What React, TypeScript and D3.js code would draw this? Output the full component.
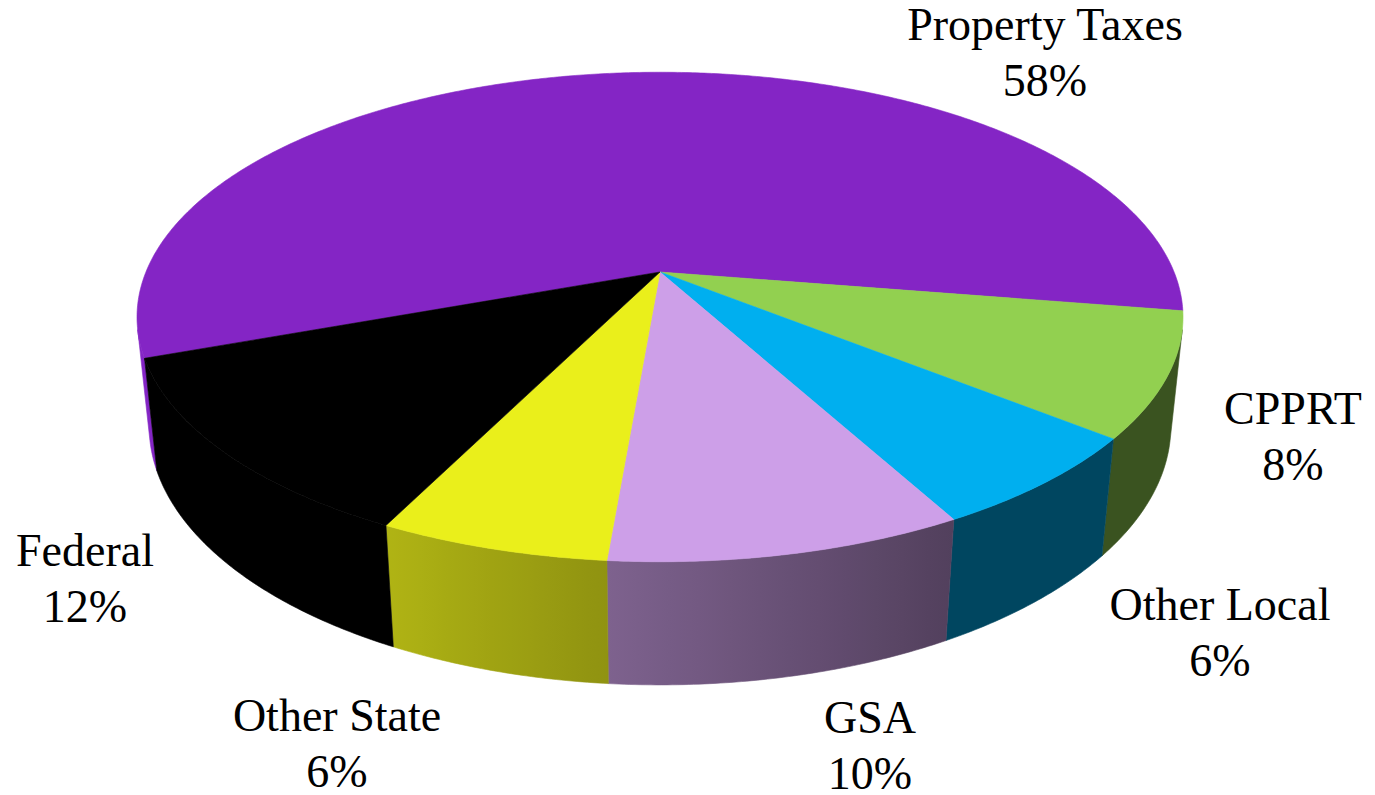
import React from "react";
import * as d3 from "d3";

const categories = ["Property Taxes", "CPPRT", "Other Local", "GSA", "Other State", "Federal"];
const values = [58.1, 8.2, 6.3, 9.3, 6.0, 12.1];
const pctLabels = ["58%", "8%", "6%", "10%", "6%", "12%"];
const colors = ["#8425C5", "#92D050", "#00AFEF", "#CD9FE8", "#EAEF1B", "#000000"];
// label anchor positions (centre x, first baseline y)
const labelX = [1045, 1293, 1220, 870, 337, 85];
const labelY = [40, 424, 620, 733, 731, 566];

const W = 1375;
const H = 795;

// perspective camera
const sinA = 0.46;
const cosA = Math.sqrt(1 - sinA * sinA);
const L = 4.83;
const F = 2483;
const CX = 660;
const CY = 272;
const THICK = 0.241;
const START_DEG = 160; // screen angle (clockwise from 3 o'clock) where first slice starts

function proj(u: number, y3: number, v: number): [number, number] {
  const den = L - v * cosA - y3 * sinA;
  return [CX + (F * u) / den, CY + (F * (v * sinA - y3 * cosA)) / den];
}
const rad = (d: number) => (d * Math.PI) / 180;
const topPt = (phi: number) => proj(Math.cos(rad(phi)), 0, Math.sin(rad(phi)));
const botPt = (phi: number) => proj(Math.cos(rad(phi)), -THICK, Math.sin(rad(phi)));

const visMin = (Math.asin(1 / (L * cosA)) * 180) / Math.PI;
const visMax = 180 - visMin;

const lightFactor = (phi: number) => Math.min(1, Math.max(0.4, 0.4 + 0.0065 * (phi - 62)));

function arcPts(a: number, b: number, fn: (p: number) => [number, number]) {
  const n = Math.max(2, Math.ceil(Math.abs(b - a) / 0.5));
  const pts: [number, number][] = [];
  for (let i = 0; i <= n; i++) pts.push(fn(a + ((b - a) * i) / n));
  return pts;
}

export default function App() {
  const pie = d3
    .pie<number>()
    .sort(null)
    .startAngle(rad(START_DEG + 90))
    .endAngle(rad(START_DEG + 90 + 360));
  const arcs = pie(values);
  const line = d3.line();

  const slices = arcs.map((arc, i) => {
    const a0 = (arc.startAngle * 180) / Math.PI - 90;
    const a1 = (arc.endAngle * 180) / Math.PI - 90;
    const topPoly: [number, number][] = [[CX, CY], ...arcPts(a0, a1, topPt)];
    const topPath = line(topPoly) + "Z";
    const sides: { a: number; b: number }[] = [];
    for (const off of [-360, 0, 360]) {
      const a = Math.max(a0 + off, visMin);
      const b = Math.min(a1 + off, visMax);
      if (b > a) sides.push({ a, b });
    }
    return { i, a0, a1, topPath, sides };
  });

  const shade = (c: string, f: number) => {
    const r = d3.rgb(c);
    return d3.rgb(r.r * f, r.g * f, r.b * f).formatHex();
  };

  const defs: React.ReactNode[] = [];
  const sidePaths: React.ReactNode[] = [];
  slices.forEach((s) => {
    s.sides.forEach((sd, k) => {
      const pts = [...arcPts(sd.a, sd.b, topPt), ...arcPts(sd.b, sd.a, botPt)];
      const id = `g${s.i}_${k}`;
      const xL = topPt(sd.b)[0];
      const xR = topPt(sd.a)[0];
      const stops: React.ReactNode[] = [];
      const N = 12;
      for (let j = 0; j <= N; j++) {
        // from left (phi = b) to right (phi = a)
        const phi = sd.b - ((sd.b - sd.a) * j) / N;
        const x = topPt(phi)[0];
        const off = xR === xL ? 0 : (x - xL) / (xR - xL);
        stops.push(<stop key={j} offset={off} stopColor={shade(colors[s.i], lightFactor(phi))} />);
      }
      defs.push(
        <linearGradient key={id} id={id} gradientUnits="userSpaceOnUse" x1={xL} y1={0} x2={xR} y2={0}>
          {stops}
        </linearGradient>
      );
      sidePaths.push(
        <path key={id} d={line(pts) + "Z"} fill={`url(#${id})`} stroke={`url(#${id})`} strokeWidth={0.6} />
      );
    });
  });

  return (
    <svg width={W} height={H} style={{ position: "absolute", left: 0, top: 0, background: "#fff" }}>
      <defs>{defs}</defs>
      <g>{sidePaths}</g>
      <g>
        {slices.map((s) => (
          <path key={s.i} d={s.topPath} fill={colors[s.i]} stroke={colors[s.i]} strokeWidth={0.6} strokeLinejoin="round" />
        ))}
      </g>
      <g
        style={{ fontFamily: '"Liberation Serif", "Times New Roman", Times, serif', fontSize: "46px" }}
        fill="#000"
        textAnchor="middle"
      >
        {categories.map((c, i) => (
          <text key={c} x={labelX[i]} y={labelY[i]}>
            <tspan x={labelX[i]}>{c}</tspan>
            <tspan x={labelX[i]} dy={56}>{pctLabels[i]}</tspan>
          </text>
        ))}
      </g>
    </svg>
  );
}
